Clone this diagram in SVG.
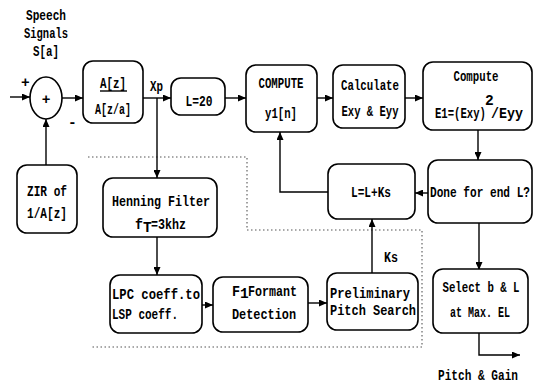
<svg xmlns="http://www.w3.org/2000/svg" width="534" height="383" viewBox="0 0 534 383">
<defs>
<style>
.b{fill:#fff;stroke:#000;stroke-width:1.6}
.c{fill:none;stroke:#000;stroke-width:1.4}
.d{fill:none;stroke:#555;stroke-width:1.1;stroke-dasharray:1.5 2.5}
text{font-family:"Liberation Mono","DejaVu Sans Mono",monospace;font-size:14.5px;font-weight:bold;fill:#000}
.m{text-anchor:middle}
</style>
<marker id="ah" markerWidth="8" markerHeight="7" refX="8" refY="3.5" orient="auto" markerUnits="userSpaceOnUse">
<path d="M0,0 L8,3.5 L0,7 z" fill="#000"/>
</marker>
</defs>
<rect width="534" height="383" fill="#fff"/>
<g id="boundary">
<polyline class="d" points="88,157 247,157 247,230 422,230 422,347 90,347"/>
</g>
<g id="connectors">
<line class="c" x1="10" y1="97" x2="30" y2="97" marker-end="url(#ah)"/>
<line class="c" x1="62" y1="98" x2="83" y2="98" marker-end="url(#ah)"/>
<line class="c" x1="143" y1="98" x2="171" y2="98" marker-end="url(#ah)"/>
<line class="c" x1="157" y1="98" x2="157" y2="178" marker-end="url(#ah)"/>
<line class="c" x1="225" y1="98" x2="246" y2="98" marker-end="url(#ah)"/>
<line class="c" x1="317" y1="98" x2="333" y2="98" marker-end="url(#ah)"/>
<line class="c" x1="405" y1="98" x2="423" y2="98" marker-end="url(#ah)"/>
<line class="c" x1="478" y1="130" x2="478" y2="160" marker-end="url(#ah)"/>
<line class="c" x1="428" y1="193" x2="415" y2="193" marker-end="url(#ah)"/>
<polyline class="c" points="328,192 280,192 280,132" marker-end="url(#ah)"/>
<line class="c" x1="372" y1="273" x2="372" y2="219" marker-end="url(#ah)"/>
<line class="c" x1="479" y1="223" x2="479" y2="270" marker-end="url(#ah)"/>
<polyline class="c" points="479,333 479,355 520,355" marker-end="url(#ah)"/>
<line class="c" x1="157" y1="237" x2="157" y2="275" marker-end="url(#ah)"/>
<line class="c" x1="202" y1="305" x2="213" y2="305" marker-end="url(#ah)"/>
<line class="c" x1="308" y1="303" x2="327" y2="303" marker-end="url(#ah)"/>
<line class="c" x1="46" y1="165" x2="46" y2="119" marker-end="url(#ah)"/>
</g>
<g id="speech">
<text class="m" x="46" y="20" textLength="40" lengthAdjust="spacingAndGlyphs">Speech</text>
<text class="m" x="46" y="38" textLength="44" lengthAdjust="spacingAndGlyphs">Signals</text>
<text class="m" x="46" y="56" textLength="26" lengthAdjust="spacingAndGlyphs">S[a]</text>
<text x="21" y="87" font-size="10">+</text>
<text x="68" y="127" font-size="10">-</text>
</g>
<g id="sum">
<ellipse class="b" cx="46" cy="98" rx="16" ry="21"/>
<text class="m" x="46" y="104" font-size="17">+</text>
</g>
<g id="filterA">
<rect class="b" x="83" y="61" width="60" height="62" rx="10"/>
<text class="m" x="113" y="88" textLength="26" lengthAdjust="spacingAndGlyphs">A[z]</text>
<line x1="100" y1="91" x2="127" y2="91" stroke="#000" stroke-width="1.4"/>
<text class="m" x="113" y="114" textLength="36" lengthAdjust="spacingAndGlyphs">A[z/a]</text>
<text x="150" y="91" textLength="13" lengthAdjust="spacingAndGlyphs">Xp</text>
</g>
<g id="L20">
<rect class="b" x="171" y="78" width="54" height="37" rx="10"/>
<text class="m" x="199" y="106" textLength="27" lengthAdjust="spacingAndGlyphs">L=20</text>
</g>
<g id="computeY">
<rect class="b" x="246" y="65" width="71" height="67" rx="10"/>
<text class="m" x="281" y="88" textLength="45" lengthAdjust="spacingAndGlyphs">COMPUTE</text>
<text class="m" x="281" y="118" textLength="32" lengthAdjust="spacingAndGlyphs">y1[n]</text>
</g>
<g id="calc">
<rect class="b" x="333" y="65" width="72" height="63" rx="10"/>
<text class="m" x="370" y="90" textLength="58" lengthAdjust="spacingAndGlyphs">Calculate</text>
<text class="m" x="370" y="116" textLength="57" lengthAdjust="spacingAndGlyphs">Exy &amp; Eyy</text>
</g>
<g id="computeE">
<rect class="b" x="423" y="62" width="109" height="68" rx="10"/>
<text class="m" x="476" y="81" textLength="45" lengthAdjust="spacingAndGlyphs">Compute</text>
<text x="435" y="118" textLength="51" lengthAdjust="spacingAndGlyphs">E1=(Exy)</text>
<text x="485" y="105" font-size="9">2</text>
<text x="491" y="118" textLength="32" lengthAdjust="spacingAndGlyphs">/Eyy</text>
</g>
<g id="done">
<rect class="b" x="428" y="160" width="104" height="63" rx="10"/>
<text x="430" y="197" textLength="100" lengthAdjust="spacingAndGlyphs">Done for end L?</text>
</g>
<g id="update">
<rect class="b" x="328" y="164" width="87" height="55" rx="10"/>
<text class="m" x="371" y="197" textLength="40" lengthAdjust="spacingAndGlyphs">L=L+Ks</text>
<text x="384" y="262" textLength="14" lengthAdjust="spacingAndGlyphs">Ks</text>
</g>
<g id="select">
<rect class="b" x="433" y="269" width="95" height="64" rx="10"/>
<text class="m" x="481" y="292" textLength="77" lengthAdjust="spacingAndGlyphs">Select b &amp; L</text>
<text class="m" x="480" y="317" textLength="60" lengthAdjust="spacingAndGlyphs">at Max. EL</text>
</g>
<g id="output">
<text class="m" x="478" y="380" textLength="80" lengthAdjust="spacingAndGlyphs">Pitch &amp; Gain</text>
</g>
<g id="zir">
<rect class="b" x="17" y="165" width="60" height="68" rx="10"/>
<text class="m" x="47" y="196" textLength="40" lengthAdjust="spacingAndGlyphs">ZIR of</text>
<text class="m" x="47" y="218" textLength="40" lengthAdjust="spacingAndGlyphs">1/A[z]</text>
</g>
<g id="hanning">
<rect class="b" x="103" y="178" width="114" height="59" rx="10"/>
<text class="m" x="161" y="206" textLength="98" lengthAdjust="spacingAndGlyphs">Henning Filter</text>
<text x="135" y="229" textLength="8" lengthAdjust="spacingAndGlyphs">f</text>
<text x="143" y="232" font-size="7">T</text>
<text x="151" y="229" textLength="35" lengthAdjust="spacingAndGlyphs">=3khz</text>
</g>
<g id="lpc">
<rect class="b" x="110" y="275" width="92" height="58" rx="10"/>
<text x="112" y="299" textLength="88" lengthAdjust="spacingAndGlyphs">LPC coeff.to</text>
<text x="112" y="319" textLength="66" lengthAdjust="spacingAndGlyphs">LSP coeff.</text>
</g>
<g id="formant">
<rect class="b" x="213" y="277" width="95" height="55" rx="10"/>
<text x="232" y="296" textLength="8" lengthAdjust="spacingAndGlyphs">F</text>
<text x="240" y="298" font-size="9">1</text>
<text x="248" y="296" textLength="49" lengthAdjust="spacingAndGlyphs">Formant</text>
<text class="m" x="264" y="319" textLength="64" lengthAdjust="spacingAndGlyphs">Detection</text>
</g>
<g id="prelim">
<rect class="b" x="327" y="273" width="91" height="57" rx="10"/>
<text x="330" y="298" textLength="80" lengthAdjust="spacingAndGlyphs">Preliminary</text>
<text x="330" y="315" textLength="86" lengthAdjust="spacingAndGlyphs">Pitch Search</text>
</g>
</svg>
